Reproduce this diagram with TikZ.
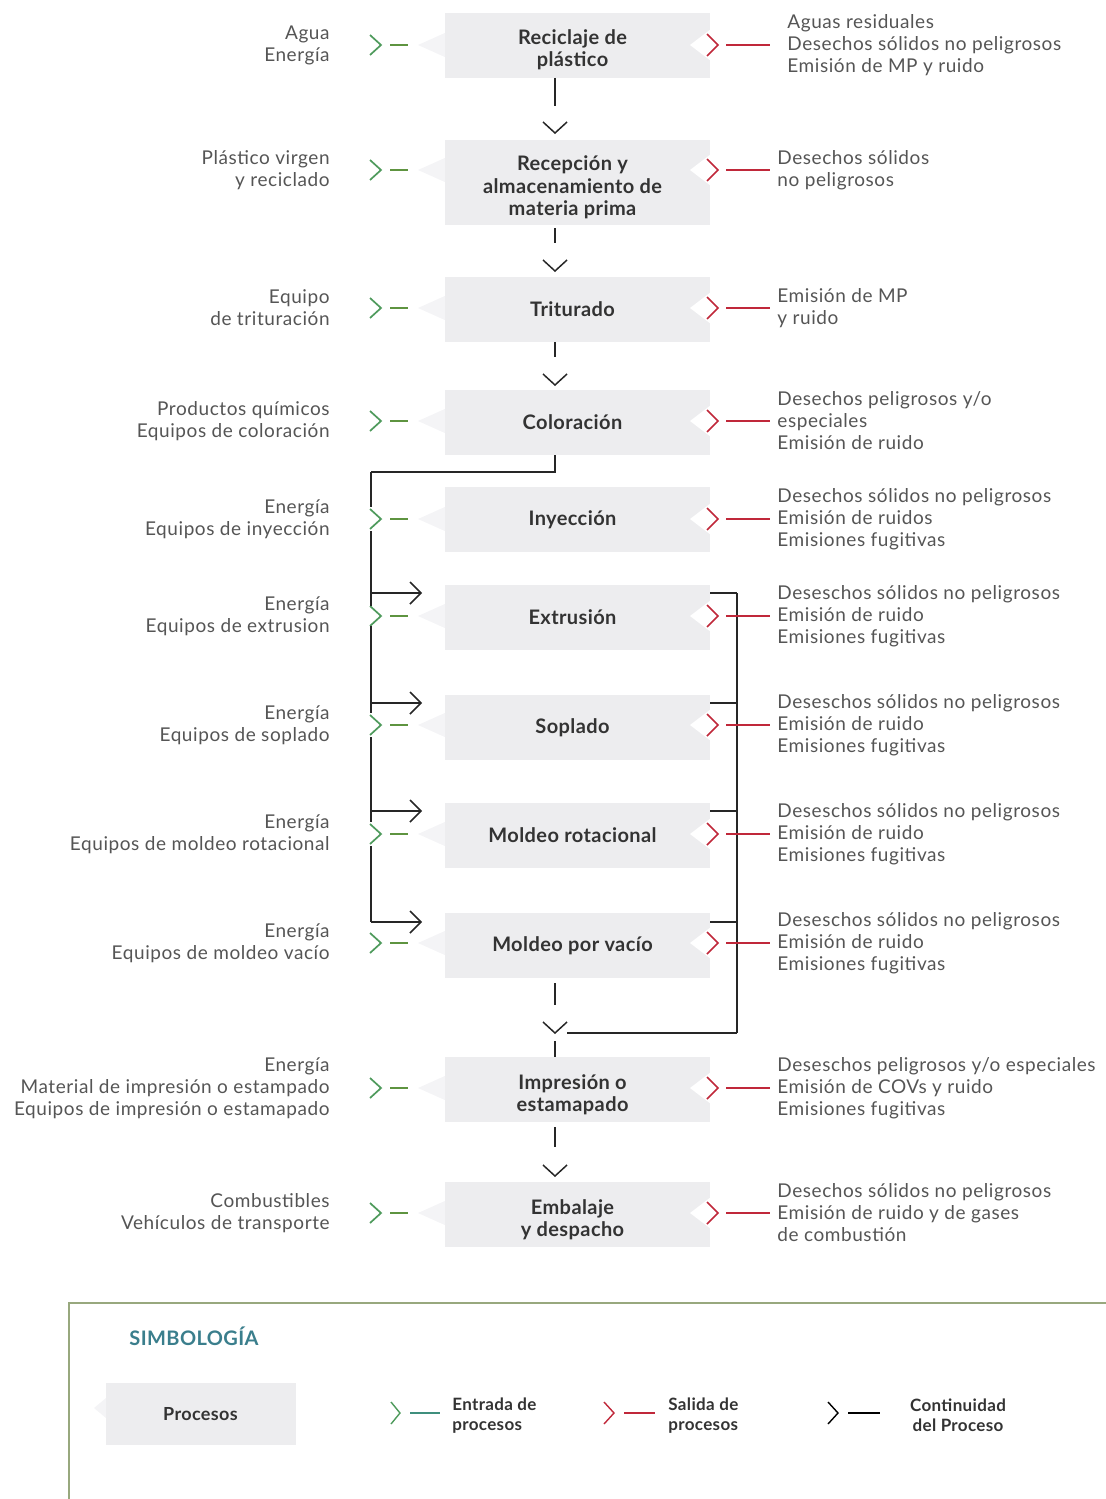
\documentclass[tikz,border=0pt]{standalone}
\usepackage{fontspec}
\setmainfont{Lato}
\newfontfamily\sidefont[LetterSpace=3]{Lato}
\newfontfamily\procfont[LetterSpace=2]{Lato}
\usetikzlibrary{calc}

\definecolor{boxgray}{HTML}{EDEDEF}
\definecolor{tabgray}{HTML}{F4F4F6}
\definecolor{sidetxt}{HTML}{555555}
\definecolor{proctxt}{HTML}{333333}
\definecolor{ingreen}{HTML}{4E9A5C}
\definecolor{dashgreen}{HTML}{5E9440}
\definecolor{outred}{HTML}{C0283A}
\definecolor{legtitle}{HTML}{3A7E8C}
\definecolor{legframe}{HTML}{98A87E}
\definecolor{legteal}{HTML}{3F8F7D}

\tikzset{
  procbase/.style={minimum width=132.5pt, minimum height=32.5pt,
    inner sep=2pt, align=center, text=proctxt,
    font=\procfont\bfseries\fontsize{10}{11.2}\selectfont},
  % the label sits slightly left of (and for two-line labels, below) the middle of its grey panel
  proc/.style={procbase, preaction={fill=boxgray, transform canvas={xshift=2.5pt, yshift=#1}}},
  proc/.default=0pt,
  legbox/.style={procbase, fill=boxgray},
  side/.style={inner sep=0pt, text=sidetxt, font=\sidefont\fontsize{9.5}{11}\selectfont},
  inchev/.style={draw=ingreen, line width=0.85pt},
  indash/.style={draw=dashgreen, line width=1pt},
  outchev/.style={draw=outred, line width=0.85pt},
  outline/.style={draw=outred, line width=1pt},
  flow/.style={draw=black!85, line width=0.75pt},
  legtxt/.style={inner sep=0pt, text=proctxt, align=left,
    font=\procfont\bfseries\fontsize{8.5}{10}\selectfont},
}

% one process row: box, input list with green marker, output list with red marker
% #1 box options, #2 name, #3 label centre y, #4 marker y, #5 box text, #6 inputs, #7 outputs
\newcommand\procrow[7][proc]{%
  \fill[tabgray] (447,#4-13) -- (418,#4) -- (447,#4+13) -- cycle;
  \node[#1] (#2) at (572.5,#3) {#5};
  \fill[white] (711,#4-16) -- (690,#4) -- (711,#4+16) -- cycle;
  \node[side, anchor=east, align=right] (#2-in) at (330,#4) {#6};
  \node[side, anchor=west, align=left] (#2-out) at (777,#4) {#7};
  \coordinate (#2-ig) at (381,#4);
  \draw[inchev] (370,#4-10) -- (#2-ig) -- (370,#4+10);
  \draw[indash] (390,#4) -- (408,#4);
  \coordinate (#2-og) at (718,#4);
  \draw[outchev] (707,#4-11) -- (#2-og) -- (707,#4+11);
}

\begin{document}
\begin{tikzpicture}[x=0.5pt,y=-0.5pt]
\useasboundingbox (0,0) rectangle (1105,1499);

% right-hand continuity bus (drawn first so the red outputs cross over it)
\coordinate (busTop) at (737,593);
\coordinate (busBot) at (737,1033);
\draw[flow] (busTop) -- (busBot);

\procrow[proc=2.5pt]{p1}{50}{45}{Reciclaje de\\plástico}{Agua\\Energía}{\hspace*{5pt}Aguas residuales\\\hspace*{5pt}Desechos sólidos no peligrosos\\\hspace*{5pt}Emisión de MP y ruido}
\procrow[proc=2.5pt, minimum height=42.5pt]{p2}{187.5}{170}{Recepción y\\almacenamiento de\\materia prima}{Plástico virgen\\y reciclado}{Desechos sólidos\\no peligrosos}
\procrow{p3}{309.5}{308}{Triturado}{Equipo\\de trituración}{Emisión de MP\\y ruido}
\procrow{p4}{422.5}{421}{Coloración}{Productos químicos\\Equipos de coloración}{Desechos peligrosos y/o\\especiales\\Emisión de ruido}
\procrow{p5}{519.5}{519}{Inyección}{Energía\\Equipos de inyección}{Desechos sólidos no peligrosos\\Emisión de ruidos\\Emisiones fugitivas}
\procrow{p6}{617.5}{616}{Extrusión}{Energía\\Equipos de extrusion}{Deseschos sólidos no peligrosos\\Emisión de ruido\\Emisiones fugitivas}
\procrow{p7}{727.5}{725}{Soplado}{Energía\\Equipos de soplado}{Deseschos sólidos no peligrosos\\Emisión de ruido\\Emisiones fugitivas}
\procrow{p8}{835}{834}{Moldeo rotacional}{Energía\\Equipos de moldeo rotacional}{Deseschos sólidos no peligrosos\\Emisión de ruido\\Emisiones fugitivas}
\procrow{p9}{945.5}{943}{Moldeo por vacío}{Energía\\Equipos de moldeo vacío}{Deseschos sólidos no peligrosos\\Emisión de ruido\\Emisiones fugitivas}
\procrow[proc=2.5pt]{p10}{1094.5}{1088}{Impresión o\\estamapado}{Energía\\Material de impresión o estampado\\Equipos de impresión o estamapado}{Deseschos peligrosos y/o especiales\\Emisión de COVs y ruido\\Emisiones fugitivas}
\procrow[proc=2.5pt]{p11}{1219.5}{1213}{Embalaje\\y despacho}{Combustibles\\Vehículos de transporte}{Desechos sólidos no peligrosos\\Emisión de ruido y de gases\\de combustión}

% red output lines
\foreach \r in {1,...,11} {
  \draw[outline] ($(p\r-og)+(8,0)$) -- ($(p\r-og)+(52,0)$);
}

% main continuity: vertical stems and down chevrons
\coordinate (v1) at (555,133);
\coordinate (v2) at (555,271);
\coordinate (v3) at (555,385);
\coordinate (v9) at (555,1033);
\coordinate (v10) at (555,1176);
\draw[flow] ($(p1.south -| v1)+(0,-5)$) -- ++(0,28);
\draw[flow] (543,122) -- (v1) -- (567,122);
\draw[flow] ($(p2.south -| v2)+(0,-2)$) -- ++(0,15);
\draw[flow] (543,260) -- (v2) -- (567,260);
\draw[flow] (p3.south -| v3) -- ++(0,15);
\draw[flow] (543,374) -- (v3) -- (567,374);

% branch from Coloración to the forming processes
\coordinate (split) at (371,472);
\draw[flow] (p4.south -| v1) |- (split);
\draw[flow] (split) -- (371,507);
\draw[flow] (371,531) -- (371,606);
\draw[flow] (371,626) -- (371,713);
\draw[flow] (371,737) -- (371,822);
\draw[flow] (371,846) -- (371,922);
\foreach \y in {593,703,811,922} {
  \draw[flow] (371,\y) -- (421,\y);
  \draw[flow] (410,\y-11) -- (421,\y) -- (410,\y+11);
}

% outputs of the forming processes join back towards Impresión
\coordinate (panelEdge) at (710,0);
\foreach \y in {593,703,811,922} {
  \draw[flow] (panelEdge |- 0,\y) -- (busTop |- 0,\y);
}
\draw[flow] (p9.south -| v9) ++(0,5) -- ++(0,22);
\draw[flow] (543,1022) -- (v9) -- (567,1022);
\draw[flow] (v9) ++(12,0) -- (busBot);
\draw[flow] (v9) ++(0,8) -- ($(p10.north -| v9)+(0,-5)$);
\draw[flow] (p10.south -| v10) -- ++(0,20);
\draw[flow] (543,1165) -- (v10) -- (567,1165);

% legend
\draw[legframe, line width=0.8pt] (69,1510) -- (69,1303) -- (1110,1303);
\node[inner sep=0pt, anchor=west, text=legtitle, font=\procfont\bfseries\fontsize{10}{12}\selectfont] (legtitle) at (129,1336) {SIMBOLOGÍA};
\fill[tabgray] (106,1398) -- (94,1408) -- (106,1418) -- cycle;
\node[legbox, minimum width=95pt, minimum height=31pt, font=\procfont\bfseries\fontsize{9}{11}\selectfont] (legproc) at (200.5,1414) {Procesos};

\coordinate (lg) at (400,1413);
\draw[draw=ingreen, line width=0.7pt] (391,1402) -- (lg) -- (391,1424);
\draw[draw=legteal, line width=1.1pt] (410,1413) -- (440,1413);
\node[legtxt, anchor=west] (legin) at (452,1416) {Entrada de\\procesos};

\coordinate (lr) at (614,1413);
\draw[draw=outred, line width=0.7pt] (604,1402) -- (lr) -- (604,1424);
\draw[draw=outred, line width=1.1pt] (624,1413) -- (655,1413);
\node[legtxt, anchor=west] (legout) at (668,1416) {Salida de\\procesos};

\coordinate (lk) at (838,1413);
\draw[draw=black, line width=0.7pt] (828,1402) -- (lk) -- (828,1424);
\draw[draw=black, line width=1.1pt] (848,1413) -- (880,1413);
\node[legtxt, align=center] (legcont) at (958,1415) {Continuidad\\del Proceso};
\end{tikzpicture}
\end{document}
